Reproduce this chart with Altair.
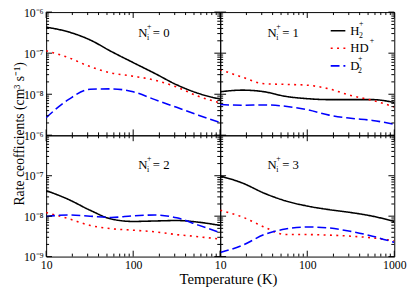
import altair as alt
import pandas as pd

FONT = "Liberation Serif"

# Temperatures (K) at which the curves were read
TEMPS = [10, 18, 32, 56, 100, 178, 316, 562, 1000]

# Rate coefficients (cm^3 s^-1)
N0_H2 = [4.3e-7, 3.3e-7, 2.1e-7, 1.1e-7, 5.9e-8, 3.2e-8, 1.7e-8, 1.05e-8, 7.6e-9]
N0_HD = [1.15e-7, 7.8e-8, 4.7e-8, 3.3e-8, 2.75e-8, 2.2e-8, 1.5e-8, 8.9e-9, 6.2e-9]
N0_D2 = [2.7e-9, 7.4e-9, 1.32e-8, 1.35e-8, 1.15e-8, 7.4e-9, 4.8e-9, 3.1e-9, 2.05e-9]

N1_H2 = [1.15e-8, 1.26e-8, 1.15e-8, 8.9e-9, 7.8e-9, 7.4e-9, 7.4e-9, 7.4e-9, 6.3e-9]
N1_HD = [4.0e-8, 2.6e-8, 1.8e-8, 1.74e-8, 1.66e-8, 1.35e-8, 9.3e-9, 7.1e-9, 4.9e-9]
N1_D2 = [5.6e-9, 5.4e-9, 5.5e-9, 5.1e-9, 4.2e-9, 3.1e-9, 2.6e-9, 2.3e-9, 1.86e-9]

N2_H2 = [4.3e-8, 2.6e-8, 1.4e-8, 8.5e-9, 7.4e-9, 7.6e-9, 7.8e-9, 7.1e-9, 5.9e-9]
N2_HD = [1.23e-8, 8.7e-9, 5.9e-9, 4.9e-9, 4.5e-9, 4.1e-9, 3.5e-9, 3.1e-9, 2.7e-9]
N2_D2 = [9.8e-9, 1.07e-8, 1.0e-8, 9.3e-9, 1.02e-8, 1.07e-8, 9.1e-9, 6.0e-9, 3.9e-9]

N3_H2 = [9.8e-8, 6.6e-8, 3.7e-8, 2.4e-8, 1.78e-8, 1.45e-8, 1.23e-8, 1.0e-8, 7.4e-9]
N3_HD = [1.4e-8, 9.5e-9, 5.4e-9, 3.5e-9, 3.5e-9, 3.4e-9, 3.2e-9, 2.9e-9, 2.45e-9]
N3_D2 = [1.26e-9, 1.9e-9, 3.5e-9, 4.8e-9, 5.4e-9, 5.1e-9, 4.2e-9, 3.2e-9, 2.24e-9]

SPECIES = ["H2+", "HD+", "D2+"]
COLORS = ["#000000", "#ff0000", "#0000ff"]
DASHES = [[1, 0], [2, 4.5], [9, 4]]

PANEL_N = ["0", "1", "2", "3"]
PANEL_LABEL_T = [114, 35, 114, 35]
PANEL_LABEL_K = [3.0e-7, 3.0e-7, 1.8e-7, 1.8e-7]

LEGEND_MAIN = ["H", "HD", "D"]
LEGEND_SUB = ["2", "", "2"]
LEGEND_SUP_DX = [9, 20, 8]
LEGEND_K = [3.53e-7, 1.32e-7, 4.9e-8]
LEGEND_T1, LEGEND_T2, LEGEND_TT = 186, 274, 312

Y_MAJOR = [1e-9, 1e-8, 1e-7, 1e-6]
Y_MINOR = [k * 10.0 ** e for e in (-9, -8, -7) for k in range(2, 10)]
X_MAJOR = [10, 100, 1000]
X_MINOR = [k * 10 ** e for e in (1, 2) for k in range(2, 10)]

TL_LABELS = ["10⁻⁶", "10⁻⁸", "10⁻⁷", "10⁻⁶"]   # for 1e-9, 1e-8, 1e-7, 1e-6 (as printed)
BL_LABELS = ["10⁻⁹", "10⁻⁸", "10⁻⁷", ""]

W = 178
H_TOP, H_BOT = 126, 124


def label_expr(lbls):
    return ("datum.value < 3e-9 ? '%s' : datum.value < 3e-8 ? '%s' : "
            "datum.value < 3e-7 ? '%s' : '%s'" % tuple(lbls))


def panel(idx, series, h, xvals, ylbls, yvals, xtitle=None, ytitle=None, legend=False):
    xscale = alt.Scale(type="log", domain=[10, 1000], nice=False)
    yscale = alt.Scale(type="log", domain=[1e-9, 1e-6], nice=False)
    if xvals:
        xa = dict(values=xvals, format="d", ticks=False, domain=False, grid=False,
                  labelFont=FONT, labelFontSize=12, labelColor="black", labelPadding=3,
                  labelOverlap=False, labelFlush=False)
        if xtitle:
            xa.update(title=xtitle, titleFont=FONT, titleFontSize=15, titleFontWeight="normal",
                      titleColor="black", titleX=8, titleY=16, titleBaseline="top")
        else:
            xa.update(title=None)
        xaxis = alt.Axis(**xa)
    else:
        xaxis = None
    if ylbls:
        ya = dict(values=yvals, labelExpr=label_expr(ylbls), ticks=False, domain=False, grid=False,
                  labelFont=FONT, labelFontSize=12, labelColor="black", labelPadding=3,
                  labelOverlap=False, labelFlush=False)
        if ytitle:
            ya.update(title=ytitle, titleFont=FONT, titleFontSize=14, titleFontWeight="normal",
                      titleColor="black", titleX=-20, titleY=124)
        else:
            ya.update(title=None)
        yaxis = alt.Axis(**ya)
    else:
        yaxis = None

    def X(f):
        return alt.X(f, type="quantitative", scale=xscale, axis=xaxis)

    def Y(f):
        return alt.Y(f, type="quantitative", scale=yscale, axis=yaxis)

    rows = []
    for sp, vals in zip(SPECIES, series):
        for t, v in zip(TEMPS, vals):
            rows.append({"T": t, "k": v, "species": sp})
    df = pd.DataFrame(rows)

    color = alt.Color("species:N", scale=alt.Scale(domain=SPECIES, range=COLORS), legend=None)
    dash = alt.StrokeDash("species:N", scale=alt.Scale(domain=SPECIES, range=DASHES), legend=None)

    lines = alt.Chart(df).mark_line(clip=True, strokeWidth=1.6, interpolate="monotone").encode(
        x=X("T"), y=Y("k"), color=color, strokeDash=dash, detail="species:N")

    layers = [lines]
    ydf_maj = pd.DataFrame({"v": Y_MAJOR})
    ydf_min = pd.DataFrame({"v": Y_MINOR})
    xdf_maj = pd.DataFrame({"v": X_MAJOR})
    xdf_min = pd.DataFrame({"v": X_MINOR})
    for d, ln in ((ydf_maj, 6), (ydf_min, 3)):
        layers.append(alt.Chart(d).mark_rule(color="black", strokeWidth=1).encode(
            y=Y("v"), x=alt.value(0), x2=alt.value(ln)))
        layers.append(alt.Chart(d).mark_rule(color="black", strokeWidth=1).encode(
            y=Y("v"), x=alt.value(W), x2=alt.value(W - ln)))
    for d, ln in ((xdf_maj, 6), (xdf_min, 3)):
        layers.append(alt.Chart(d).mark_rule(color="black", strokeWidth=1).encode(
            x=X("v"), y=alt.value(0), y2=alt.value(ln)))
        layers.append(alt.Chart(d).mark_rule(color="black", strokeWidth=1).encode(
            x=X("v"), y=alt.value(h), y2=alt.value(h - ln)))

    ldf = pd.DataFrame({"T": [PANEL_LABEL_T[idx]], "k": [PANEL_LABEL_K[idx]],
                        "N": ["N"], "sup": ["+"], "sub": ["i"], "eq": ["= " + PANEL_N[idx]]})
    base_t = alt.Chart(ldf)
    layers.append(base_t.mark_text(font=FONT, fontSize=13, align="left", baseline="middle",
                                   color="black").encode(x=X("T"), y=Y("k"), text="N:N"))
    layers.append(base_t.mark_text(font=FONT, fontSize=8, align="left", baseline="middle",
                                   color="black", dx=9, dy=-7).encode(x=X("T"), y=Y("k"), text="sup:N"))
    layers.append(base_t.mark_text(font=FONT, fontSize=8, align="left", baseline="middle",
                                   color="black", dx=9, dy=5).encode(x=X("T"), y=Y("k"), text="sub:N"))
    layers.append(base_t.mark_text(font=FONT, fontSize=13, align="left", baseline="middle",
                                   color="black", dx=15).encode(x=X("T"), y=Y("k"), text="eq:N"))

    if legend:
        legdf = pd.DataFrame({"species": SPECIES, "T1": [LEGEND_T1] * 3, "T2": [LEGEND_T2] * 3,
                              "TT": [LEGEND_TT] * 3, "k": LEGEND_K, "main": LEGEND_MAIN,
                              "sub": LEGEND_SUB, "sup": ["+"] * 3})
        layers.append(alt.Chart(legdf).mark_rule(strokeWidth=1.6).encode(
            x=X("T1"), x2="T2", y=Y("k"), color=color, strokeDash=dash))
        layers.append(alt.Chart(legdf).mark_text(font=FONT, fontSize=13, align="left",
                                                 baseline="middle", color="black").encode(
            x=X("TT"), y=Y("k"), text="main:N"))
        for i in range(3):
            one = alt.Chart(legdf.iloc[[i]])
            layers.append(one.mark_text(font=FONT, fontSize=8, align="left", baseline="middle",
                                        color="black", dx=LEGEND_SUP_DX[i], dy=-7).encode(
                x=X("TT"), y=Y("k"), text="sup:N"))
            layers.append(one.mark_text(font=FONT, fontSize=8, align="left", baseline="middle",
                                        color="black", dx=LEGEND_SUP_DX[i], dy=5).encode(
                x=X("TT"), y=Y("k"), text="sub:N"))

    return alt.layer(*layers).properties(width=W, height=h)


tl = panel(0, [N0_H2, N0_HD, N0_D2], H_TOP, None, TL_LABELS, Y_MAJOR,
           ytitle="Rate ceofficients (cm³ s⁻¹)")
tr = panel(1, [N1_H2, N1_HD, N1_D2], H_TOP, None, None, None, legend=True)
bl = panel(2, [N2_H2, N2_HD, N2_D2], H_BOT, [10, 100], BL_LABELS, [1e-9, 1e-8, 1e-7])
br = panel(3, [N3_H2, N3_HD, N3_D2], H_BOT, [10, 100, 1000], None, None,
           xtitle="Temperature (K)")

chart = alt.concat(tl, tr, bl, br, columns=2, spacing=0, bounds="flush").configure_view(
    stroke="black", strokeWidth=1).properties(
    padding={"left": 4, "top": -6, "right": 0, "bottom": 0}, background="white")

chart.save("out.html", embed_options={"renderer": "svg", "actions": False})
